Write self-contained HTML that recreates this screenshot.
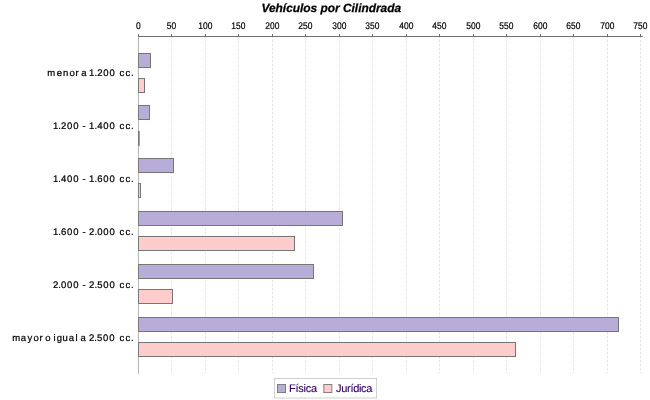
<!DOCTYPE html>
<html><head><meta charset="utf-8"><title>Vehículos por Cilindrada</title>
<style>
html,body{margin:0;padding:0;background:#fff;}
body{width:650px;height:400px;overflow:hidden;font-family:"Liberation Sans",sans-serif;}
svg{display:block;will-change:transform;}
text{font-family:"Liberation Sans",sans-serif;text-rendering:geometricPrecision;}
</style></head><body>
<svg width="650" height="400" viewBox="0 0 650 400">
<rect x="0" y="0" width="650" height="400" fill="#ffffff"/>
<text x="331.3" y="11.6" text-anchor="middle" font-size="11.9" font-weight="bold" font-style="italic" fill="#000" stroke="#000" stroke-width="0.28">Vehículos por Cilindrada</text>
<g stroke="#c0c0c0" stroke-width="0.5" stroke-dasharray="2 2" fill="none">
<line x1="171.50" y1="36.3" x2="171.50" y2="373.0"/>
<line x1="205.50" y1="36.3" x2="205.50" y2="373.0"/>
<line x1="238.50" y1="36.3" x2="238.50" y2="373.0"/>
<line x1="272.50" y1="36.3" x2="272.50" y2="373.0"/>
<line x1="305.50" y1="36.3" x2="305.50" y2="373.0"/>
<line x1="339.50" y1="36.3" x2="339.50" y2="373.0"/>
<line x1="372.50" y1="36.3" x2="372.50" y2="373.0"/>
<line x1="406.50" y1="36.3" x2="406.50" y2="373.0"/>
<line x1="439.50" y1="36.3" x2="439.50" y2="373.0"/>
<line x1="473.50" y1="36.3" x2="473.50" y2="373.0"/>
<line x1="506.50" y1="36.3" x2="506.50" y2="373.0"/>
<line x1="540.50" y1="36.3" x2="540.50" y2="373.0"/>
<line x1="573.50" y1="36.3" x2="573.50" y2="373.0"/>
<line x1="607.50" y1="36.3" x2="607.50" y2="373.0"/>
<line x1="640.50" y1="36.3" x2="640.50" y2="373.0"/>
</g>
<g stroke="#767676" stroke-width="1">
<rect x="138.50" y="53.50" width="12.00" height="14.00" fill="#b8acd9"/>
<rect x="138.50" y="78.50" width="6.00" height="14.00" fill="#ffcccc"/>
<rect x="138.50" y="105.50" width="11.00" height="14.00" fill="#b8acd9"/>
<rect x="138.50" y="131.50" width="0.70" height="14.00" fill="#ffcccc"/>
<rect x="138.50" y="158.50" width="35.00" height="14.00" fill="#b8acd9"/>
<rect x="138.50" y="183.50" width="2.00" height="14.00" fill="#ffcccc"/>
<rect x="138.50" y="211.50" width="204.00" height="14.00" fill="#b8acd9"/>
<rect x="138.50" y="236.50" width="156.00" height="14.00" fill="#ffcccc"/>
<rect x="138.50" y="264.50" width="175.00" height="14.00" fill="#b8acd9"/>
<rect x="138.50" y="289.50" width="34.00" height="14.00" fill="#ffcccc"/>
<rect x="138.50" y="317.50" width="480.00" height="14.00" fill="#b8acd9"/>
<rect x="138.50" y="342.50" width="377.00" height="14.00" fill="#ffcccc"/>
</g>
<line x1="138.45" y1="36" x2="138.45" y2="373.7" stroke="#808080" stroke-width="0.6"/>
<line x1="138" y1="36.5" x2="642.7" y2="36.5" stroke="#6e6e6e" stroke-width="1"/>
<g stroke="#6e6e6e" stroke-width="1">
<line x1="138.50" y1="34" x2="138.50" y2="36.5"/>
<line x1="171.50" y1="34" x2="171.50" y2="36.5"/>
<line x1="205.50" y1="34" x2="205.50" y2="36.5"/>
<line x1="238.50" y1="34" x2="238.50" y2="36.5"/>
<line x1="272.50" y1="34" x2="272.50" y2="36.5"/>
<line x1="305.50" y1="34" x2="305.50" y2="36.5"/>
<line x1="339.50" y1="34" x2="339.50" y2="36.5"/>
<line x1="372.50" y1="34" x2="372.50" y2="36.5"/>
<line x1="406.50" y1="34" x2="406.50" y2="36.5"/>
<line x1="439.50" y1="34" x2="439.50" y2="36.5"/>
<line x1="473.50" y1="34" x2="473.50" y2="36.5"/>
<line x1="506.50" y1="34" x2="506.50" y2="36.5"/>
<line x1="540.50" y1="34" x2="540.50" y2="36.5"/>
<line x1="573.50" y1="34" x2="573.50" y2="36.5"/>
<line x1="607.50" y1="34" x2="607.50" y2="36.5"/>
<line x1="640.50" y1="34" x2="640.50" y2="36.5"/>
</g>
<g font-size="9.6" fill="#000" stroke="#000" stroke-width="0.2" text-anchor="middle">
<text transform="translate(138.40,29.1) scale(0.88,1)" x="0" y="0">0</text>
<text transform="translate(171.40,29.1) scale(0.88,1)" x="0" y="0">50</text>
<text transform="translate(205.40,29.1) scale(0.88,1)" x="0" y="0">100</text>
<text transform="translate(238.40,29.1) scale(0.88,1)" x="0" y="0">150</text>
<text transform="translate(272.40,29.1) scale(0.88,1)" x="0" y="0">200</text>
<text transform="translate(305.40,29.1) scale(0.88,1)" x="0" y="0">250</text>
<text transform="translate(339.40,29.1) scale(0.88,1)" x="0" y="0">300</text>
<text transform="translate(372.40,29.1) scale(0.88,1)" x="0" y="0">350</text>
<text transform="translate(406.40,29.1) scale(0.88,1)" x="0" y="0">400</text>
<text transform="translate(439.40,29.1) scale(0.88,1)" x="0" y="0">450</text>
<text transform="translate(473.40,29.1) scale(0.88,1)" x="0" y="0">500</text>
<text transform="translate(506.40,29.1) scale(0.88,1)" x="0" y="0">550</text>
<text transform="translate(540.40,29.1) scale(0.88,1)" x="0" y="0">600</text>
<text transform="translate(573.40,29.1) scale(0.88,1)" x="0" y="0">650</text>
<text transform="translate(607.40,29.1) scale(0.88,1)" x="0" y="0">700</text>
<text transform="translate(640.40,29.1) scale(0.88,1)" x="0" y="0">750</text>
</g>
<g font-size="9.5" fill="#000" stroke="#000" stroke-width="0.22">
<text x="47.3 56.8 63.1 69.4 75.4 78.5 81.2 86.3 89.1 94.5 97.2 103.3 109.4 115.5 119.4 125.4 130.9" y="76.00">menor a 1.200 cc.</text>
<text x="52.9 58.3 61.0 67.1 73.2 79.3 82.5 86.0 89.1 94.5 97.2 103.3 109.4 115.5 119.4 125.4 130.9" y="129.00">1.200 - 1.400 cc.</text>
<text x="52.9 58.3 61.0 67.1 73.2 79.3 82.5 86.0 89.1 94.5 97.2 103.3 109.4 115.5 119.4 125.4 130.9" y="182.00">1.400 - 1.600 cc.</text>
<text x="52.9 58.3 61.0 67.1 73.2 79.3 82.5 86.0 89.1 94.5 97.2 103.3 109.4 115.5 119.4 125.4 130.9" y="235.00">1.600 - 2.000 cc.</text>
<text x="52.9 58.3 61.0 67.1 73.2 79.3 82.5 86.0 89.1 94.5 97.2 103.3 109.4 115.5 119.4 125.4 130.9" y="288.00">2.000 - 2.500 cc.</text>
<text x="12.3 20.8 27.5 33.4 39.5 42.5 45.3 50.6 53.5 56.8 62.6 68.7 75.5 77.8 80.6 86.2 88.9 94.3 97.0 103.1 109.2 115.5 119.4 125.4 130.9" y="341.00">mayor o igual a 2.500 cc.</text>
</g>
<rect x="274.5" y="378.5" width="102" height="19.5" fill="#fff" stroke="#d0d0d0" stroke-width="1"/>
<rect x="277.5" y="384.5" width="8" height="8" fill="#b8acd9" stroke="#808080" stroke-width="1"/>
<rect x="323.8" y="384.5" width="8" height="8" fill="#ffcccc" stroke="#808080" stroke-width="1"/>
<g font-size="11" fill="#330066" letter-spacing="-0.3" stroke="#330066" stroke-width="0.12">
<text x="289.1" y="391.9" letter-spacing="-0.25">Física</text>
<text x="336" y="391.9">Jurídica</text>
</g>
</svg>
</body></html>
